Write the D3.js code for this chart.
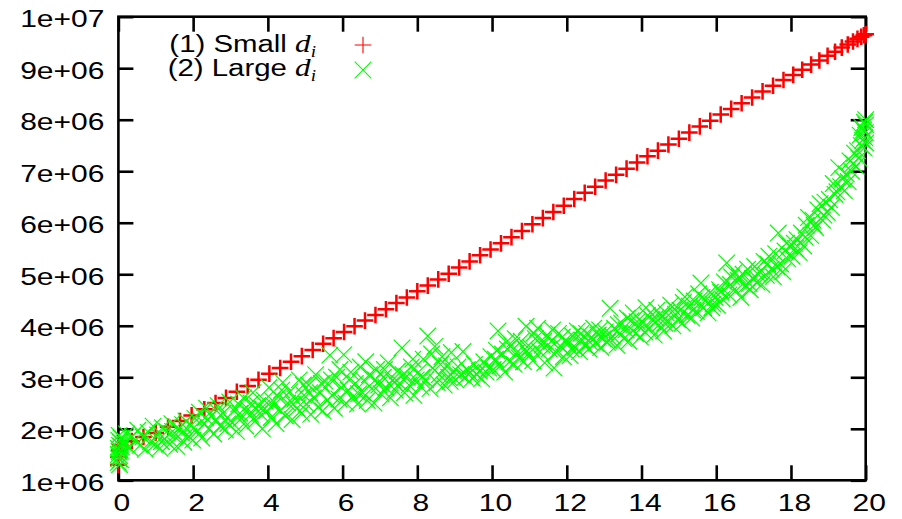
<!DOCTYPE html>
<html>
<head>
<meta charset="utf-8">
<script src="https://cdn.jsdelivr.net/npm/d3@7"></script>
<style>
  html, body { margin: 0; padding: 0; background: #fff; }
  svg { display: block; }
</style>
</head>
<body>
<svg id="chart" width="902" height="519"></svg>
<script>
// Axis ticks and their labels
const xTicks = [0, 2, 4, 6, 8, 10, 12, 14, 16, 18, 20];
const yTicks = [1, 2, 3, 4, 5, 6, 7, 8, 9, 10];
const yTickLabels = ["1e+06", "2e+06", "3e+06", "4e+06", "5e+06", "6e+06", "7e+06", "8e+06", "9e+06", "1e+07"];

// Series names
const seriesNames = ["(1) Small ", "(2) Large "];

// Series (1): small d_i  — [x, value in millions]
const smallD = [
  [0.00,1.30],[0.00,1.45],[0.02,1.58],[0.05,1.68],[0.36,1.76],[0.67,1.84],[1.00,1.92],[1.33,2.04],
  [1.65,2.15],[1.96,2.26],[2.30,2.38],[2.60,2.50],[2.88,2.60],[3.17,2.72],[3.46,2.83],[3.75,2.95],
  [4.04,3.07],[4.33,3.18],[4.62,3.30],[4.91,3.41],[5.20,3.53],[5.48,3.65],[5.76,3.76],[6.04,3.88],
  [6.32,3.99],[6.60,4.10],[6.88,4.21],[7.16,4.32],[7.44,4.44],[7.72,4.55],[8.00,4.67],[8.28,4.78],
  [8.56,4.90],[8.84,5.01],[9.12,5.13],[9.40,5.25],[9.68,5.37],[9.96,5.48],[10.24,5.60],[10.52,5.72],
  [10.80,5.84],[11.08,5.97],[11.36,6.09],[11.64,6.21],[11.92,6.33],[12.20,6.46],[12.48,6.58],[12.76,6.70],
  [13.04,6.82],[13.32,6.93],[13.60,7.05],[13.88,7.17],[14.16,7.29],[14.44,7.40],[14.72,7.52],[15.00,7.63],
  [15.28,7.75],[15.56,7.87],[15.84,7.98],[16.12,8.10],[16.40,8.21],[16.68,8.32],[16.96,8.43],[17.24,8.55],
  [17.52,8.66],[17.80,8.77],[18.06,8.87],[18.30,8.97],[18.54,9.07],[18.76,9.15],[18.98,9.24],[19.18,9.32],
  [19.36,9.40],[19.52,9.46],[19.66,9.52],[19.78,9.57],[19.88,9.61],[19.95,9.64],[20.00,9.66]
];

// Series (2): large d_i  — [x, value in millions]
const largeD = [
  [0.00,1.35],[0.00,1.50],[0.00,1.62],[0.01,1.42],[0.01,1.78],[0.02,1.55],[0.02,1.87],[0.03,1.30],
  [0.03,1.68],[0.04,1.47],[0.05,1.74],[0.05,1.58],[0.06,1.40],[0.07,1.82],[0.08,1.65],
  [0.15,1.72],[0.22,1.90],[0.30,1.63],[0.37,1.85],[0.45,1.78],[0.52,1.97],[0.58,1.68],[0.66,1.84],
  [0.72,1.60],[0.80,1.93],[0.86,1.75],[0.93,2.05],[0.98,1.70],
  [1.05,1.88],[1.11,1.62],[1.18,2.02],[1.24,1.80],[1.30,1.95],[1.37,1.70],[1.43,2.10],[1.50,1.86],
  [1.56,1.66],[1.62,2.00],[1.69,1.92],[1.75,1.74],[1.81,2.15],[1.88,1.85],[1.94,2.06],[1.99,1.78],
  [2.05,2.20],[2.11,1.95],[2.17,2.32],[2.23,1.82],[2.30,2.10],[2.36,2.40],[2.42,2.00],[2.48,2.25],
  [2.55,1.90],[2.61,2.18],[2.67,2.45],[2.73,2.05],[2.80,2.30],[2.86,1.98],[2.92,2.22],[2.98,2.52],
  [3.04,2.12],[3.10,2.35],[3.16,1.95],[3.22,2.48],[3.29,2.20],[3.35,2.60],[3.41,2.05],[3.47,2.38],
  [3.54,2.28],[3.60,2.70],[3.66,2.15],[3.72,2.45],[3.79,2.30],[3.85,2.00],[3.91,2.55],[3.97,2.35],
  [4.03,2.80],[4.09,2.22],[4.15,2.45],[4.22,2.10],[4.28,2.62],[4.34,2.35],[4.40,2.90],[4.47,2.25],
  [4.53,2.50],[4.59,2.72],[4.65,2.18],[4.72,2.58],[4.78,2.40],[4.84,2.95],[4.90,2.30],[4.97,2.65],
  [5.03,2.48],[5.09,2.85],[5.15,2.28],[5.22,2.60],[5.28,3.05],[5.34,2.42],[5.40,2.70],[5.47,2.35],
  [5.53,2.92],[5.59,2.55],[5.66,3.43],[5.72,2.65],[5.78,2.40],[5.84,3.00],[5.90,2.58],[5.97,2.80],
  [6.03,3.44],[6.09,2.50],[6.15,2.75],[6.22,3.10],[6.28,2.62],[6.34,2.88],[6.40,2.48],[6.47,3.20],
  [6.53,2.70],[6.59,2.92],[6.66,2.55],[6.72,3.05],[6.78,2.78],[6.84,2.50],[6.91,3.15],[6.97,2.85],
  [7.03,2.68],[7.09,3.00],[7.16,2.80],[7.22,3.28],[7.28,2.60],[7.34,2.95],[7.41,2.75],[7.47,3.12],
  [7.53,2.88],[7.59,3.57],[7.66,2.70],[7.72,3.02],[7.78,2.85],[7.84,3.20],[7.91,2.65],[7.97,2.95],
  [8.03,3.10],[8.09,2.82],[8.16,3.35],[8.22,2.95],[8.28,3.80],[8.34,2.78],[8.41,3.18],[8.47,3.60],
  [8.53,2.90],[8.59,3.05],[8.66,3.40],[8.72,2.85],[8.78,3.22],[8.84,3.00],[8.91,3.48],[8.97,3.12],
  [9.03,2.95],[9.09,3.20],[9.16,3.05],[9.22,3.50],[9.28,3.00],[9.34,3.15],[9.41,3.08],[9.47,2.98],
  [9.53,3.25],[9.59,3.05],[9.66,3.12],[9.72,2.97],[9.78,3.30],[9.84,3.10],[9.91,3.18],[9.97,3.40],
  [10.03,3.15],[10.09,3.35],[10.16,3.90],[10.22,3.22],[10.28,3.45],[10.34,3.10],[10.41,3.55],[10.47,3.30],
  [10.53,3.62],[10.59,3.25],[10.66,3.48],[10.72,3.38],[10.78,3.70],[10.84,3.30],[10.91,3.99],[10.97,3.45],
  [11.03,3.58],[11.09,3.32],[11.16,3.75],[11.22,3.95],[11.28,3.50],[11.34,3.62],[11.41,3.28],[11.47,3.82],
  [11.53,3.55],[11.59,3.70],[11.66,3.18],[11.72,3.48],[11.78,3.85],[11.84,3.60],[11.91,3.40],[11.97,3.72],
  [12.03,3.65],[12.09,3.42],[12.16,3.80],[12.22,3.58],[12.28,3.90],[12.34,3.50],[12.41,3.72],[12.47,3.62],
  [12.53,3.85],[12.59,3.55],[12.66,3.78],[12.72,3.95],[12.78,3.66],[12.84,3.82],[12.91,3.58],[12.97,3.75],
  [13.03,3.88],[13.09,3.68],[13.16,4.34],[13.22,3.80],[13.28,3.95],[13.34,3.62],[13.41,3.85],[13.47,4.05],
  [13.53,3.75],[13.59,3.92],[13.66,3.70],[13.72,4.10],[13.78,4.25],[13.84,3.85],[13.91,4.00],[13.97,3.78],
  [14.03,4.05],[14.09,3.88],[14.16,4.20],[14.22,3.95],[14.28,4.12],[14.34,3.82],[14.41,4.30],[14.47,4.02],
  [14.53,4.18],[14.59,3.90],[14.66,4.25],[14.72,4.08],[14.78,4.40],[14.84,4.00],[14.91,4.22],[14.97,4.12],
  [15.03,4.30],[15.09,4.05],[15.16,4.56],[15.22,4.20],[15.28,4.38],[15.34,4.15],[15.41,4.48],[15.47,4.28],
  [15.53,4.62],[15.59,4.83],[15.66,4.35],[15.72,4.50],[15.78,4.25],[15.84,4.65],[15.91,4.42],[15.97,4.55],
  [16.03,4.40],[16.09,4.70],[16.16,4.52],[16.22,4.85],[16.28,5.22],[16.34,4.60],[16.41,4.95],[16.47,5.03],
  [16.53,4.68],[16.59,4.88],[16.66,4.55],[16.72,5.00],[16.78,4.78],[16.84,5.10],[16.91,4.70],[16.97,4.92],
  [17.03,5.15],[17.09,4.85],[17.16,5.05],[17.22,4.80],[17.28,5.25],[17.34,4.98],[17.41,5.35],[17.47,5.10],
  [17.53,4.95],[17.59,5.40],[17.66,5.80],[17.72,5.20],[17.78,5.05],[17.84,5.45],[17.91,5.30],[17.97,5.55],
  [18.03,5.35],[18.09,5.60],[18.16,5.67],[18.22,5.42],[18.28,5.80],[18.34,5.55],[18.41,5.95],[18.47,6.10],
  [18.53,5.75],[18.59,6.05],[18.66,5.90],[18.72,6.25],[18.78,6.37],[18.84,6.05],[18.91,6.40],[18.97,6.20],
  [19.03,6.45],[19.08,6.30],[19.13,6.76],[19.18,6.55],[19.23,6.60],[19.28,7.07],[19.33,6.70],[19.38,6.85],
  [19.43,6.62],[19.48,6.95],[19.53,6.80],[19.58,7.20],[19.62,7.00],[19.66,7.15],[19.70,7.35],
  [19.74,7.10],[19.78,7.40],[19.82,7.25],[19.85,7.70],[19.88,7.50],[19.90,7.85],[19.92,7.60],[19.94,7.80],
  [19.96,7.45],[19.97,7.95],[19.98,7.65],[19.99,7.75],[20.00,7.90],[20.00,7.55],[20.00,8.00],
  [1.15,1.75],[1.45,1.95],[1.72,2.08],[2.02,2.02],[2.33,2.22],[2.63,2.35],[2.93,2.10],[3.25,2.30],
  [3.55,2.50],[3.83,2.40],[4.12,2.55],[4.37,2.75],[4.68,2.48],[4.95,2.85],[5.12,2.70],[5.43,2.88],
  [5.70,2.95],[5.93,3.15],[6.18,2.95],[6.43,2.68],[6.62,3.30],[6.88,2.95],[7.12,3.15],[7.38,2.90],
  [7.62,3.05],[7.88,3.35],[8.12,3.00],[8.38,3.45],[8.62,3.25],[8.88,2.92],[10.12,3.52],[10.38,3.68],
  [10.62,3.75],[10.88,3.55],[11.12,3.85],[11.38,3.70],[11.62,3.92],[11.88,3.78],[12.12,3.55],[12.38,3.85],
  [12.62,3.68],[12.88,3.92],[13.12,3.72],[13.38,4.02],[13.62,4.15],[13.88,4.08],[14.12,4.35],[14.38,4.15],
  [14.62,4.05],[14.88,4.32],[15.12,4.45],[15.38,4.30],[15.62,4.55],[15.88,4.35],[16.12,4.65],[16.38,4.80],
  [16.62,4.95],[16.88,4.82],[17.12,5.00],[17.38,5.20],[17.62,5.15],[17.88,5.60],[18.12,5.50],[18.38,5.72],
  [18.62,5.95],[18.88,6.15]
];

const svg = d3.select("#chart");
const plot = { left: 118.4, right: 865.7, top: 16.7, bottom: 480.3 };
const x = d3.scaleLinear().domain([0, 20]).range([plot.left, plot.right]);
const y = d3.scaleLinear().domain([1, 10]).range([plot.bottom, plot.top]);

const FONT = "'Liberation Sans', Arial, Helvetica, sans-serif";
const STRETCH = 1.25;   // wide tick lettering
const TICK = 15;
const LW = 2.6;

// frame
svg.append("rect")
  .attr("x", plot.left).attr("y", plot.top)
  .attr("width", plot.right - plot.left).attr("height", plot.bottom - plot.top)
  .attr("fill", "none").attr("stroke", "#000").attr("stroke-width", LW);

function styleAxis(g) {
  g.select(".domain").remove();
  g.selectAll(".tick line").attr("stroke", "#000").attr("stroke-width", LW);
  g.selectAll(".tick text")
    .attr("fill", "#000")
    .style("font-family", FONT)
    .style("font-size", "24px");
}

// bottom axis with labels
const gx = svg.append("g")
  .attr("transform", `translate(0,${plot.bottom})`)
  .call(d3.axisBottom(x).tickValues(xTicks).tickFormat(d3.format("d"))
    .tickSizeInner(-TICK).tickSizeOuter(0).tickPadding(13.7));
styleAxis(gx);
gx.selectAll(".tick text").attr("x", 3 / STRETCH).attr("transform", `scale(${STRETCH},1)`);

// left axis with labels
const gy = svg.append("g")
  .attr("transform", `translate(${plot.left},0)`)
  .call(d3.axisLeft(y).tickValues(yTicks).tickFormat((d, i) => yTickLabels[i])
    .tickSizeInner(-TICK).tickSizeOuter(0).tickPadding(11.2));
styleAxis(gy);
gy.selectAll(".tick text").attr("dy", "0.42em").attr("transform", `scale(${STRETCH},1)`);

// mirrored ticks on top and right
const gt = svg.append("g")
  .attr("transform", `translate(0,${plot.top})`)
  .call(d3.axisTop(x).tickValues(xTicks).tickFormat("").tickSizeInner(-TICK).tickSizeOuter(0));
styleAxis(gt);
const gr = svg.append("g")
  .attr("transform", `translate(${plot.right},0)`)
  .call(d3.axisRight(y).tickValues(yTicks).tickFormat("").tickSizeInner(-TICK).tickSizeOuter(0));
styleAxis(gr);

// marker shapes
const H = 8.3;
const plusPath = `M${-H},0H${H}M0,${-H}V${H}`;
const crossPath = `M${-H},${-H}L${H},${H}M${-H},${H}L${H},${-H}`;

// series (1): red plus
svg.append("g").selectAll("path").data(smallD).join("path")
  .attr("d", plusPath)
  .attr("transform", d => `translate(${x(d[0])},${y(d[1])})`)
  .attr("fill", "none").attr("stroke", "#ff0000").attr("stroke-width", 2.5);

// series (2): green cross
svg.append("g").selectAll("path").data(largeD).join("path")
  .attr("d", crossPath)
  .attr("transform", d => `translate(${x(d[0])},${y(d[1])})`)
  .attr("fill", "none").attr("stroke", "#00ff00").attr("stroke-width", 1.2);

// key
const legendRows = [
  { name: seriesNames[0], path: plusPath, color: "#ff0000", ty: 52, sy: 45 },
  { name: seriesNames[1], path: crossPath, color: "#00ff00", ty: 76, sy: 70 }
];
const key = svg.append("g");
legendRows.forEach(r => {
  const t = key.append("text")
    .attr("text-anchor", "end")
    .attr("transform", `translate(316,${r.ty}) scale(1.2,1)`)
    .attr("fill", "#000")
    .style("font-family", FONT)
    .style("font-size", "24.5px");
  t.append("tspan").text(r.name);
  t.append("tspan")
    .style("font-family", "'Liberation Serif', 'Times New Roman', serif")
    .style("font-style", "italic")
    .style("font-size", "26px")
    .text("d");
  t.append("tspan")
    .attr("dy", 5)
    .style("font-family", "'Liberation Serif', 'Times New Roman', serif")
    .style("font-style", "italic")
    .style("font-size", "16px")
    .text("i");
  key.append("path")
    .attr("d", r.path)
    .attr("transform", `translate(363,${r.sy})`)
    .attr("fill", "none").attr("stroke", r.color).attr("stroke-width", 1.1);
});
</script>
</body>
</html>
